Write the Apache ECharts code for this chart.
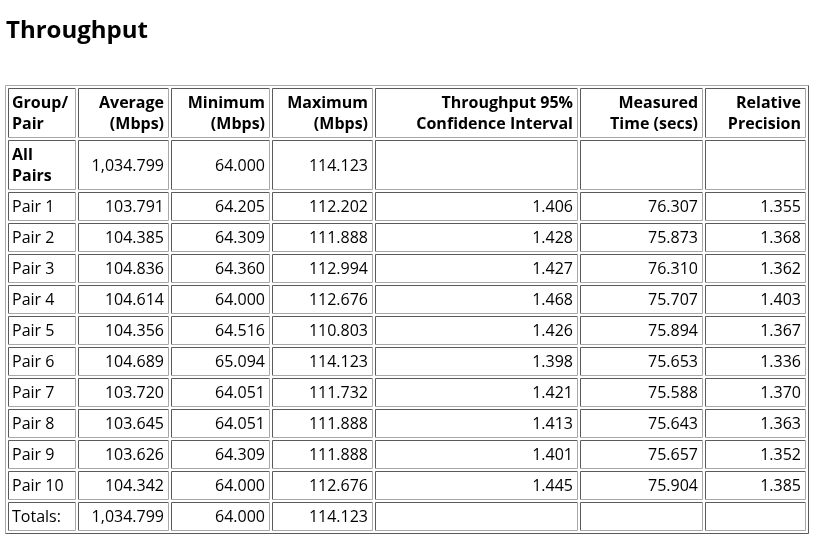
<!DOCTYPE html>
<html>
<head>
<meta charset="utf-8">
<script src="https://cdn.jsdelivr.net/npm/echarts@6/dist/echarts.min.js"></script>
<style>
html,body{margin:0;padding:0;background:#fff;}
#main{width:814px;height:554px;}
</style>
</head>
<body>
<div id="main"></div>
<script>
// ---- data ----
var title = "Throughput";
var headers = ["Group/\nPair", "Average\n(Mbps)", "Minimum\n(Mbps)", "Maximum\n(Mbps)", "Throughput 95%\nConfidence Interval", "Measured\nTime (secs)", "Relative\nPrecision"];
var rowLabels = ["All\nPairs", "Pair 1", "Pair 2", "Pair 3", "Pair 4", "Pair 5", "Pair 6", "Pair 7", "Pair 8", "Pair 9", "Pair 10", "Totals:"];
var average = [1034.799, 103.791, 104.385, 104.836, 104.614, 104.356, 104.689, 103.720, 103.645, 103.626, 104.342, 1034.799];
var minimum = [64.000, 64.205, 64.309, 64.360, 64.000, 64.516, 65.094, 64.051, 64.051, 64.309, 64.000, 64.000];
var maximum = [114.123, 112.202, 111.888, 112.994, 112.676, 110.803, 114.123, 111.732, 111.888, 111.888, 112.676, 114.123];
var confidence = [null, 1.406, 1.428, 1.427, 1.468, 1.426, 1.398, 1.421, 1.413, 1.401, 1.445, null];
var measuredTime = [null, 76.307, 75.873, 76.310, 75.707, 75.894, 75.653, 75.588, 75.643, 75.657, 75.904, null];
var precision = [null, 1.355, 1.368, 1.362, 1.403, 1.367, 1.336, 1.370, 1.363, 1.352, 1.385, null];

// ---- layout (table geometry, in px units of the axes) ----
var colWidths = [68, 91, 99, 101, 203, 123, 101];
var rowHeights = [50, 50, 29, 29, 29, 29, 29, 29, 29, 29, 29, 29, 29];
var spacing = 2;
var FONT = '"Open Sans", "Noto Sans", sans-serif';

function fmt(v) {
  if (v === null || v === undefined) return "";
  return v.toLocaleString("en-US", {minimumFractionDigits: 3, maximumFractionDigits: 3});
}

var colStart = [], acc = 0;
colWidths.forEach(function (w) { colStart.push(acc); acc += w + spacing; });
var totalW = acc - spacing;
var rowStart = [], accY = 0;
rowHeights.forEach(function (h) { rowStart.push(accY); accY += h + spacing; });
var totalH = accY - spacing;

// cells: [col, row, text, bold(1/0), alignLeft(1/0)]
var cells = [];
headers.forEach(function (h, c) { cells.push([c, 0, h, 1, c === 0 ? 1 : 0]); });
var valueCols = [average, minimum, maximum, confidence, measuredTime, precision];
rowLabels.forEach(function (lab, r) {
  cells.push([0, r + 1, lab, r === 0 ? 1 : 0, 1]);
  valueCols.forEach(function (arr, k) {
    cells.push([k + 1, r + 1, fmt(arr[r]), 0, 0]);
  });
});

var chart = echarts.init(document.getElementById('main'), null, {renderer: 'canvas'});

var DARK = '#5a5a5a', LIGHT = '#a8a8a8';

function renderItem(params, api) {
  var c = api.value(0), r = api.value(1);
  var d = cells[params.dataIndex];
  var p0 = api.coord([colStart[c], rowStart[r]]);
  var p1 = api.coord([colStart[c] + colWidths[c], rowStart[r] + rowHeights[r]]);
  var x0 = Math.round(p0[0]), y0 = Math.round(p0[1]), x1 = Math.round(p1[0]), y1 = Math.round(p1[1]);
  var alignLeft = d[4] === 1;
  var children = [
    {type: 'line', shape: {x1: x0 + 0.5, y1: y0 + 0.5, x2: x1 - 0.5, y2: y0 + 0.5}, style: {stroke: DARK, lineWidth: 1}},
    {type: 'line', shape: {x1: x0 + 0.5, y1: y0 + 0.5, x2: x0 + 0.5, y2: y1 - 0.5}, style: {stroke: DARK, lineWidth: 1}},
    {type: 'line', shape: {x1: x0 + 0.5, y1: y1 - 0.5, x2: x1 - 0.5, y2: y1 - 0.5}, style: {stroke: LIGHT, lineWidth: 1}},
    {type: 'line', shape: {x1: x1 - 0.5, y1: y0 + 0.5, x2: x1 - 0.5, y2: y1 - 0.5}, style: {stroke: LIGHT, lineWidth: 1}},
    {
      type: 'text',
      x: alignLeft ? x0 + 4 : x1 - 5,
      y: (y0 + y1) / 2 + 1,
      style: {
        text: d[2],
        align: alignLeft ? 'left' : 'right',
        verticalAlign: 'middle',
        font: (d[3] ? 'bold ' : '') + '16px ' + FONT,
        lineHeight: 21,
        fill: '#000'
      }
    }
  ];
  return {type: 'group', children: children};
}

chart.setOption({
  animation: false,
  backgroundColor: '#fff',
  grid: {left: 8, top: 88, width: totalW, height: totalH, containLabel: false},
  xAxis: {type: 'value', min: 0, max: totalW, show: false},
  yAxis: {type: 'value', min: 0, max: totalH, inverse: true, show: false},
  graphic: [
    {type: 'text', left: 6, top: 19, style: {text: title, font: 'bold 24px ' + FONT, fill: '#000'}},
    // outer table border (outset)
    {type: 'line', shape: {x1: 5.5, y1: 85.5, x2: 808.5, y2: 85.5}, style: {stroke: LIGHT, lineWidth: 1}},
    {type: 'line', shape: {x1: 5.5, y1: 85.5, x2: 5.5, y2: 533.5}, style: {stroke: LIGHT, lineWidth: 1}},
    {type: 'line', shape: {x1: 5.5, y1: 533.5, x2: 808.5, y2: 533.5}, style: {stroke: DARK, lineWidth: 1}},
    {type: 'line', shape: {x1: 808.5, y1: 85.5, x2: 808.5, y2: 533.5}, style: {stroke: DARK, lineWidth: 1}}
  ],
  series: [{
    type: 'custom',
    coordinateSystem: 'cartesian2d',
    renderItem: renderItem,
    data: cells.map(function (d) { return [d[0], d[1]]; }),
    clip: false
  }]
});
</script>
</body>
</html>
